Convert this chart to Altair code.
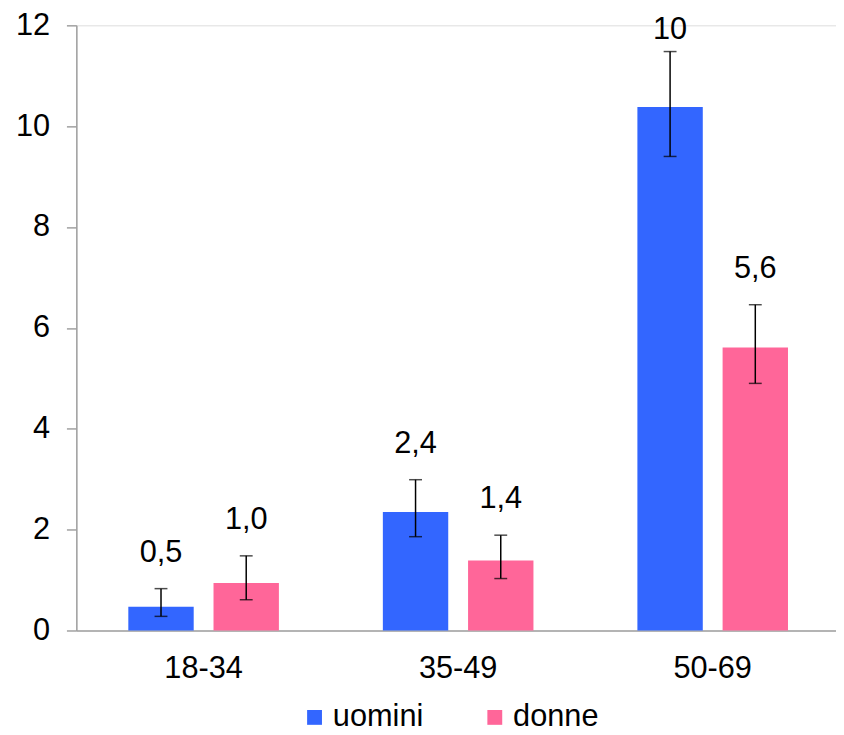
import altair as alt
import pandas as pd

categories = ["18-34", "35-49", "50-69"]
series = ["uomini", "donne"]
uomini = [0.47, 2.35, 10.38]
donne = [0.94, 1.39, 5.61]
uomini_lo = [0.28, 1.86, 9.40]
uomini_hi = [0.83, 2.99, 11.48]
donne_lo = [0.61, 1.03, 4.90]
donne_hi = [1.48, 1.89, 6.46]
uomini_lbl = ["0,5", "2,4", "10"]
donne_lbl = ["1,0", "1,4", "5,6"]
colors = ["#3366FF", "#FF6699"]

rows = []
for i, c in enumerate(categories):
    rows.append({"eta": c, "sesso": "uomini", "valore": uomini[i],
                 "lo": uomini_lo[i], "hi": uomini_hi[i], "lbl": uomini_lbl[i]})
    rows.append({"eta": c, "sesso": "donne", "valore": donne[i],
                 "lo": donne_lo[i], "hi": donne_hi[i], "lbl": donne_lbl[i]})
df = pd.DataFrame(rows)

FONT = "Liberation Sans"
FS = 31

x = alt.X("eta:N", sort=categories,
          scale=alt.Scale(range=[0, 771], paddingInner=0, paddingOuter=0),
          axis=alt.Axis(title=None, labelAngle=0, ticks=False, domainColor="#A0A0A0",
                        domainWidth=1.5, labelFontSize=FS, labelPadding=23,
                        labelColor="black", labelFont=FONT))
xo = alt.XOffset("sesso:N", sort=series,
                 scale=alt.Scale(domain=series, paddingInner=0.2326, paddingOuter=0.61))
yscale = alt.Scale(domain=[0, 12], nice=False)

base = alt.Chart(df)

bars = base.mark_bar().encode(
    x=x, xOffset=xo,
    y=alt.Y("valore:Q", scale=yscale,
            axis=alt.Axis(title=None, values=[0, 2, 4, 6, 8, 10, 12], grid=False,
                          tickSize=10, tickColor="#A0A0A0", tickWidth=1.5,
                          domainColor="#A0A0A0", domainWidth=1.5,
                          labelPadding=17, labelFontSize=FS, labelColor="black",
                          labelFont=FONT)),
    color=alt.Color("sesso:N", sort=series,
                    scale=alt.Scale(domain=series, range=colors),
                    legend=alt.Legend(title=None, orient="none", legendX=225, legendY=683,
                                      direction="horizontal", symbolType="square",
                                      symbolSize=225, symbolStrokeWidth=0,
                                      labelFontSize=FS, labelFont=FONT, labelColor="black",
                                      labelOffset=3, columnPadding=56, padding=0)),
)

rules = base.mark_rule(color="black", strokeWidth=1.5).encode(
    x=x, xOffset=xo, y=alt.Y("lo:Q", scale=yscale), y2="hi:Q")
cap_hi = base.mark_tick(color="black", size=13, thickness=1.5).encode(
    x=x, xOffset=xo, y=alt.Y("hi:Q", scale=yscale))
cap_lo = base.mark_tick(color="black", size=13, thickness=1.5).encode(
    x=x, xOffset=xo, y=alt.Y("lo:Q", scale=yscale))
labels = base.transform_calculate(
    lpos="min(datum.hi + 0.2, 11.4)"
).mark_text(dy=-17, baseline="alphabetic", fontSize=FS, font=FONT,
            color="black").encode(
    x=x, xOffset=xo, y=alt.Y("lpos:Q", scale=yscale), text="lbl:N")

chart = alt.layer(bars, rules, cap_hi, cap_lo, labels).properties(
    width=767, height=611, autosize="none",
    padding={"left": 69, "top": 14, "right": 0, "bottom": 100},
).configure_view(stroke=None).configure(background="white")

chart.save("out.html", embed_options={"renderer": "svg", "actions": False})
